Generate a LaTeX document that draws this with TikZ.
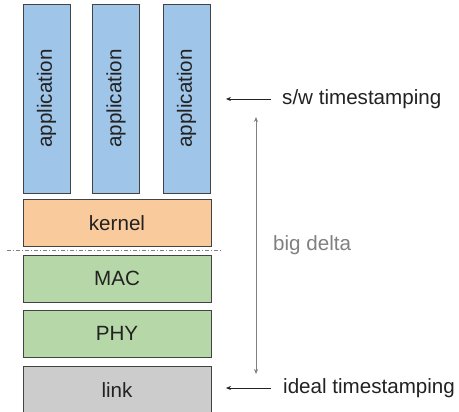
\documentclass[tikz,border=0pt]{standalone}
\usepackage{fontspec}
\setmainfont{Liberation Sans}
\usetikzlibrary{arrows.meta}
\definecolor{appblue}{HTML}{9FC5E8}
\definecolor{kerorange}{HTML}{F9CB9C}
\definecolor{macgreen}{HTML}{B6D7A8}
\definecolor{linkgrey}{HTML}{CCCCCC}
\definecolor{edge}{HTML}{434343}
\definecolor{txt}{HTML}{222222}
\definecolor{deltagrey}{HTML}{808080}
\tikzset{
  layer/.style={draw=edge, line width=0.9pt, minimum width=188pt, minimum height=47pt, inner sep=0pt, font=\fontsize{20.6}{22}\selectfont, text=txt},
  app/.style={draw=edge, line width=0.9pt, fill=appblue, minimum width=47pt, minimum height=189pt, inner sep=0pt, font=\fontsize{20.6}{22}\selectfont, text=txt},
  lbl/.style={font=\fontsize{20.6}{22}\selectfont, text=txt, anchor=west, inner sep=0pt},
  ptr/.style={draw=txt, line width=0.7pt, -{Stealth[length=5pt,width=4pt]}},
}
\begin{document}
\begin{tikzpicture}[x=1pt,y=-1pt]
\useasboundingbox (0,0) rectangle (459,412);
\node[app] (a1) at (46.5,98.5) {\rotatebox{90}{application}};
\node[app] (a2) at (116,98.5) {\rotatebox{90}{application}};
\node[app] (a3) at (186.5,98.5) {\rotatebox{90}{application}};
\node[layer, fill=kerorange] (kern) at (117,223) {kernel};
\node[layer, fill=macgreen] (mac) at (117,278.5) {MAC};
\node[layer, fill=macgreen] (phy) at (117,333.5) {PHY};
\node[layer, fill=linkgrey, minimum height=49pt] (link) at (117,390.5) {link};
\coordinate (d1) at (7,250.5);
\coordinate (d2) at (222,250.5);
\draw[deltagrey, line width=0.8pt, dash pattern=on 4pt off 2pt on 1pt off 2pt] (d1) -- (d2);
\node[lbl] (sw) at (282,99) {s/w timestamping};
\node[lbl] (ideal) at (283,388) {ideal timestamping};
\coordinate (swt) at (226,99);
\coordinate (idt) at (226,388);
\draw[ptr] (sw.west) ++(-11,0) coordinate (sws) -- (swt);
\draw[ptr] (ideal.west) ++(-12,0) coordinate (ids) -- (idt);
\coordinate (v1) at (256,117);
\coordinate (v2) at (256,374);
\draw[deltagrey, line width=0.7pt, {Stealth[length=5pt,width=4pt]}-{Stealth[length=5pt,width=4pt]}] (v1) -- (v2);
\node[lbl, text=deltagrey] (delta) at (273,245) {big delta};
\end{tikzpicture}
\end{document}
